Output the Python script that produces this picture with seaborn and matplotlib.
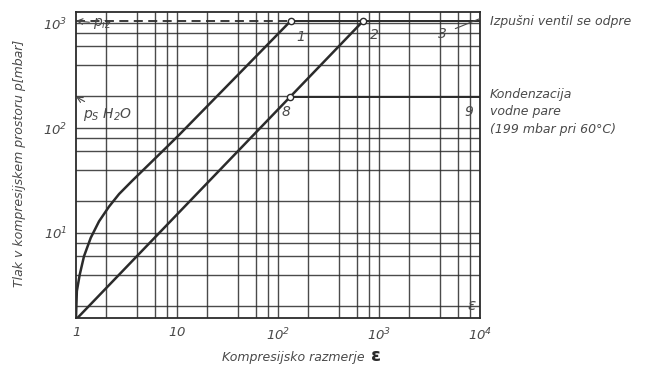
import numpy as np
import pandas as pd
import seaborn as sns
import matplotlib.pyplot as plt

# compression ratio / pressure readings
eps_curve = [1.0, 1.02, 1.088, 1.20, 1.40, 1.69, 2.12, 2.67, 3.61, 5.28, 7.43, 10.5, 52.8, 134]
p_curve = [1.55, 2.8, 4.0, 6.0, 9.0, 12.9, 17.8, 23.5, 31.5, 45, 62, 86, 420, 1050]

eps_line = [1.0, 700]
p_line = [1.5, 1050]

p_iz = 1050
p_s_h2o = 199

points = {'1': (134, 1050), '2': (700, 1050), '8': (132, 199)}

x_ticks = [1, 10, 100, 1000, 10000]
x_ticklabels = ['$1$', '$10$', '$10^2$', '$10^3$', '$10^4$']
y_ticks = [10, 100, 1000]
y_ticklabels = ['$10^1$', '$10^2$', '$10^3$']

grid_steps = [2, 4, 6, 8, 10]

sns.set_style('white')
plt.rcParams['font.family'] = ['DejaVu Sans']
plt.rcParams['mathtext.fontset'] = 'custom'
plt.rcParams['mathtext.rm'] = 'DejaVu Sans:italic'
plt.rcParams['mathtext.it'] = 'DejaVu Sans:italic'

ink = '#2b2b2b'
txt = '#4a4a4a'

fig = plt.figure(figsize=(6.54, 3.79), dpi=100)
ax = fig.add_axes([0.1162, 0.161, 0.6177, 0.807])

# grid paper
vlines = [s * 10 ** k for k in range(4) for s in grid_steps]
hlines = [s * 10 ** k for k in range(3) for s in grid_steps]
for v in vlines:
    ax.axvline(v, color=ink, lw=1.0, alpha=0.85, zorder=1)
for h in hlines:
    ax.axhline(h, color=ink, lw=1.0, alpha=0.85, zorder=1)

curve = pd.DataFrame({'eps': eps_curve, 'p': p_curve})
line = pd.DataFrame({'eps': eps_line, 'p': p_line})

sns.lineplot(curve, x='eps', y='p', color=ink, lw=1.8, sort=False, ax=ax, zorder=3)
sns.lineplot(line, x='eps', y='p', color=ink, lw=1.8, sort=False, ax=ax, zorder=3)

ax.set(xscale='log', yscale='log')
ax.set_xlim(1, 1e4)
ax.set_ylim(1.55, 1270)

# p_iz dashed up to point 1, then solid to right edge
ax.plot([1, points['1'][0]], [p_iz, p_iz], color=ink, lw=1.3, ls=(0, (5, 3)), zorder=3)
ax.plot([points['1'][0], 1e4], [p_iz, p_iz], color=ink, lw=1.4, zorder=3)
# condensation line 8 -> 9
ax.plot([points['8'][0], 1e4], [p_s_h2o, p_s_h2o], color=ink, lw=1.4, zorder=3)

for name, (ex, py) in points.items():
    ax.plot(ex, py, 'o', ms=4.5, mfc='white', mec=ink, mew=1.0, zorder=5, clip_on=False)

lbl = dict(fontsize=10, style='italic', color=txt, zorder=6)
ax.annotate('1', points['1'], xytext=(4, -12), textcoords='offset points', ha='left', va='center', **lbl)
ax.annotate('2', points['2'], xytext=(5, -10), textcoords='offset points', ha='left', va='center', **lbl)
ax.annotate('8', points['8'], xytext=(-3, -11), textcoords='offset points', ha='center', va='center', **lbl)
ax.annotate('9', (1e4, p_s_h2o), xytext=(-8, -11), textcoords='offset points', ha='center', va='center', **lbl)
ax.annotate('3', (1e4, p_iz * 1.05), xytext=(-27, -11), textcoords='offset points', ha='center', va='center',
            arrowprops=dict(arrowstyle='-', color=txt, lw=0.8, shrinkA=4, shrinkB=0), **lbl)
ax.annotate('ε', (8000, 1.55), xytext=(1, 9), textcoords='offset points', ha='center', va='center',
            **dict(lbl, fontsize=11))

ax.annotate(r'$p_{iz}$', (1, p_iz), xytext=(12, -2), textcoords='offset points', ha='left', va='center',
            arrowprops=dict(arrowstyle='->', color=txt, lw=0.8, shrinkA=0, shrinkB=0),
            fontsize=10, color=txt, zorder=6)
ax.annotate(r'$p_S\ H_2O$', (1, p_s_h2o), xytext=(5, -13), textcoords='offset points', ha='left', va='center',
            arrowprops=dict(arrowstyle='->', color=txt, lw=0.8, shrinkA=2, shrinkB=0),
            fontsize=10, color=txt, zorder=6)

ax.set_xticks(x_ticks, x_ticklabels)
ax.set_yticks(y_ticks, y_ticklabels)
ax.minorticks_off()
ax.tick_params(length=0, labelsize=9.5, labelcolor=txt, pad=6)
ax.set_xlabel('')
ax.set_ylabel('')

for s in ax.spines.values():
    s.set_color(ink)
    s.set_linewidth(1.3)

fig.text(0.749, 0.942, 'Izpušni ventil se odpre', fontsize=9, style='italic', color=txt, va='center')
fig.text(0.749, 0.768, 'Kondenzacija\nvodne pare\n(199 mbar pri 60°C)', fontsize=9, style='italic',
         color=txt, va='top', linespacing=1.45)
fig.text(0.03, 0.57, 'Tlak v kompresijskem prostoru p[mbar]', fontsize=9, style='italic', color=txt,
         rotation=90, ha='center', va='center')
fig.text(0.34, 0.058, 'Kompresijsko razmerje', fontsize=9, style='italic', color=txt, va='center')
fig.text(0.568, 0.062, 'ε', fontsize=13, weight='bold', color=ink, va='center')

fig.savefig('out.png', dpi=100)
